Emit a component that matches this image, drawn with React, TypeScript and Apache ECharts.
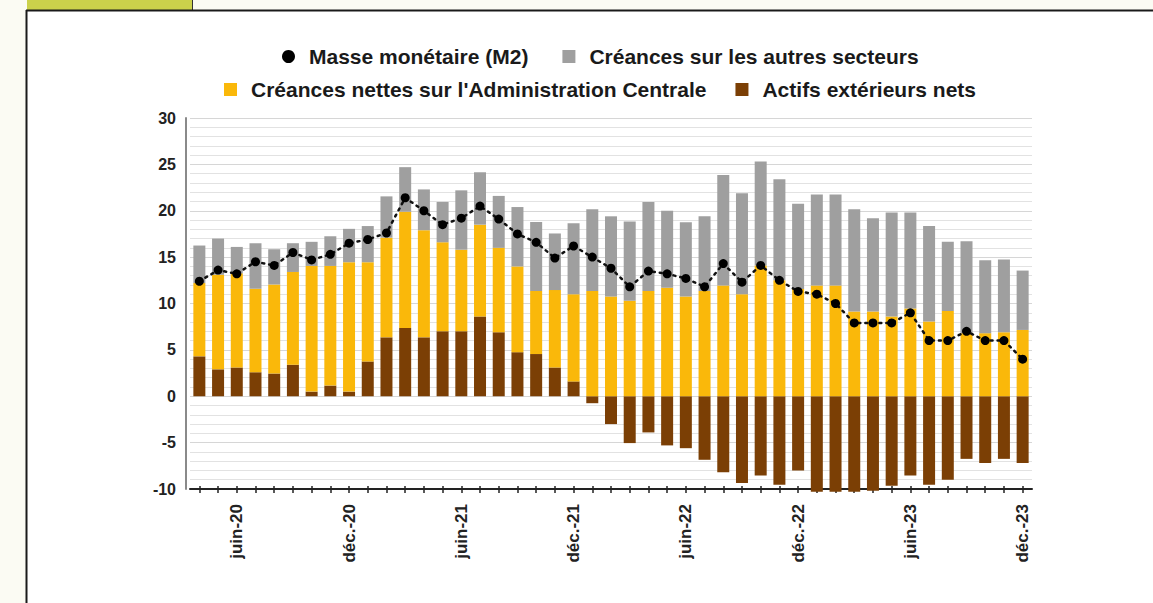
import React, { useEffect, useRef } from "react";
import * as echarts from "echarts";

const months = [
  "avr.-20", "mai-20", "juin-20", "juil.-20", "août-20", "sept.-20", "oct.-20", "nov.-20", "déc.-20",
  "janv.-21", "févr.-21", "mars-21", "avr.-21", "mai-21", "juin-21", "juil.-21", "août-21", "sept.-21", "oct.-21", "nov.-21", "déc.-21",
  "janv.-22", "févr.-22", "mars-22", "avr.-22", "mai-22", "juin-22", "juil.-22", "août-22", "sept.-22", "oct.-22", "nov.-22", "déc.-22",
  "janv.-23", "févr.-23", "mars-23", "avr.-23", "mai-23", "juin-23", "juil.-23", "août-23", "sept.-23", "oct.-23", "nov.-23", "déc.-23",
];

const actifsExterieurs = [
  4.3, 2.9, 3.1, 2.6, 2.45, 3.4, 0.5, 1.15, 0.5, 3.75,
  6.35, 7.35, 6.35, 7.0, 7.0, 8.6, 6.9, 4.75, 4.55, 3.1,
  1.6, -0.75, -3.0, -5.05, -3.9, -5.3, -5.6, -6.85, -8.2, -9.35,
  -8.55, -9.55, -8.0, -10.3, -10.3, -10.3, -10.2, -9.65, -8.55, -9.55,
  -9.0, -6.75, -7.2, -6.75, -7.2,
];

const creancesAdmin = [
  7.9, 10.2, 10.15, 9.0, 9.6, 10.0, 13.55, 12.9, 13.95, 10.7,
  10.75, 12.55, 11.55, 9.6, 8.8, 9.9, 9.1, 9.25, 6.8, 8.35,
  9.4, 11.35, 10.75, 10.3, 11.35, 11.7, 10.75, 11.35, 11.95, 11.0,
  14.1, 12.5, 11.55, 11.95, 11.95, 9.15, 9.15, 8.6, 9.45, 8.05,
  9.2, 6.8, 6.8, 6.9, 7.15,
];

const creancesAutres = [
  4.05, 3.9, 2.85, 4.9, 3.8, 3.1, 2.6, 3.2, 3.6, 3.9,
  4.45, 4.8, 4.4, 4.35, 6.4, 5.65, 5.6, 6.4, 7.45, 6.1,
  7.65, 8.8, 8.65, 8.55, 9.6, 8.3, 8.0, 8.05, 11.9, 10.9,
  11.2, 10.9, 9.2, 9.8, 9.8, 11.0, 10.05, 11.2, 10.35, 10.3,
  7.45, 9.9, 7.85, 7.85, 6.4,
];

const masseMonetaire = [
  12.4, 13.6, 13.2, 14.5, 14.1, 15.5, 14.7, 15.3, 16.5, 16.9,
  17.6, 21.4, 20.0, 18.5, 19.2, 20.5, 19.1, 17.5, 16.6, 14.9,
  16.2, 15.0, 13.8, 11.8, 13.5, 13.2, 12.7, 11.8, 14.3, 12.3,
  14.1, 12.5, 11.3, 11.0, 10.0, 7.9, 7.9, 7.9, 9.0, 6.0,
  6.0, 7.0, 6.0, 6.0, 4.0,
];

const yTicks = { min: -10, max: 30, interval: 5 };

const NAME_M2 = "Masse monétaire (M2)";
const NAME_AUTRES = "Créances sur les autres secteurs";
const NAME_ADMIN = "Créances nettes sur l'Administration Centrale";
const NAME_EXT = "Actifs extérieurs nets";

const FONT = "'Liberation Sans', Arial, sans-serif";

export default function App() {
  const ref = useRef<HTMLDivElement>(null);

  useEffect(() => {
    if (!ref.current) return;
    const chart = echarts.init(ref.current, undefined, { renderer: "svg" });

    const legendText = { fontFamily: FONT, fontWeight: "bold", fontSize: 21, color: "#1a1a1a", padding: [0, 0, 0, 9] };

    chart.setOption({
      animation: false,
      backgroundColor: "#fbfbf3",
      graphic: [
        { type: "rect", z: -10, shape: { x: 27, y: 11, width: 1126, height: 592 }, style: { fill: "#ffffff" } },
        { type: "rect", z: -9, shape: { x: 27, y: 0, width: 165, height: 10 }, style: { fill: "#cbd14b" } },
        { type: "line", z: -8, shape: { x1: 192.5, y1: 0, x2: 192.5, y2: 10 }, style: { stroke: "#333", lineWidth: 1 } },
        { type: "line", z: -8, shape: { x1: 26, y1: 10.5, x2: 1153, y2: 10.5 }, style: { stroke: "#1a1a1a", lineWidth: 2 } },
        { type: "line", z: -8, shape: { x1: 26.5, y1: 10, x2: 26.5, y2: 603 }, style: { stroke: "#1a1a1a", lineWidth: 2 } },
      ],
      legend: [
        {
          left: 277,
          top: 41,
          itemWidth: 13,
          itemHeight: 13,
          itemGap: 34,
          data: [
            { name: NAME_M2, icon: "circle" },
            { name: NAME_AUTRES, icon: "rect" },
          ],
          textStyle: legendText,
        },
        {
          left: 219,
          top: 74,
          itemWidth: 13,
          itemHeight: 13,
          itemGap: 29,
          data: [
            { name: NAME_ADMIN, icon: "rect" },
            { name: NAME_EXT, icon: "rect" },
          ],
          textStyle: legendText,
        },
      ],
      grid: { left: 190, right: 121, top: 118, bottom: 114, containLabel: false },
      xAxis: [
        {
          type: "category",
          data: months,
          position: "bottom",
          boundaryGap: true,
          axisLine: { onZero: false, lineStyle: { color: "#222", width: 2 } },
          axisTick: { show: true, alignWithLabel: true, interval: 0, length: 4, lineStyle: { color: "#222", width: 1.5 } },
          axisLabel: {
            interval: (i: number) => i % 6 === 2,
            rotate: 90,
            margin: 15,
            fontFamily: FONT,
            fontWeight: "bold",
            fontSize: 17,
            color: "#222",
          },
          splitLine: { show: false },
        },
        {
          type: "category",
          data: months,
          position: "bottom",
          boundaryGap: true,
          axisLine: { show: false, onZero: false },
          axisTick: { show: true, inside: true, alignWithLabel: true, interval: 0, length: 3, lineStyle: { color: "#222", width: 1.5 } },
          axisLabel: { show: false },
          splitLine: { show: false },
        },
      ],
      yAxis: {
        type: "value",
        min: yTicks.min,
        max: yTicks.max,
        interval: yTicks.interval,
        offset: 4,
        axisLine: { show: true, lineStyle: { color: "#8a8a8a", width: 2 } },
        axisTick: { show: false },
        axisLabel: { fontFamily: FONT, fontWeight: "bold", fontSize: 16, color: "#222", margin: 10 },
        splitLine: { show: true, lineStyle: { color: "#d6d6d6", width: 1 } },
        minorTick: { show: false, splitNumber: 5 },
        minorSplitLine: { show: true, lineStyle: { color: "#e2e2e2", width: 1 } },
      },
      series: [
        {
          name: NAME_EXT,
          type: "bar",
          stack: "total",
          barWidth: 12,
          clip: false,
          itemStyle: { color: "#7b3f05" },
          data: actifsExterieurs,
        },
        {
          name: NAME_ADMIN,
          type: "bar",
          stack: "total",
          barWidth: 12,
          itemStyle: { color: "#fab80a" },
          data: creancesAdmin,
        },
        {
          name: NAME_AUTRES,
          type: "bar",
          stack: "total",
          barWidth: 12,
          itemStyle: { color: "#9f9f9f" },
          data: creancesAutres,
        },
        {
          name: NAME_M2,
          type: "line",
          z: 10,
          symbol: "circle",
          symbolSize: 9,
          itemStyle: { color: "#000" },
          lineStyle: { color: "#111", width: 2.5, type: [2, 5], cap: "round" },
          data: masseMonetaire,
        },
      ],
    });

    return () => chart.dispose();
  }, []);

  return (
    <div
      ref={ref}
      style={{ position: "fixed", left: 0, top: 0, width: 1153, height: 603 }}
    />
  );
}
